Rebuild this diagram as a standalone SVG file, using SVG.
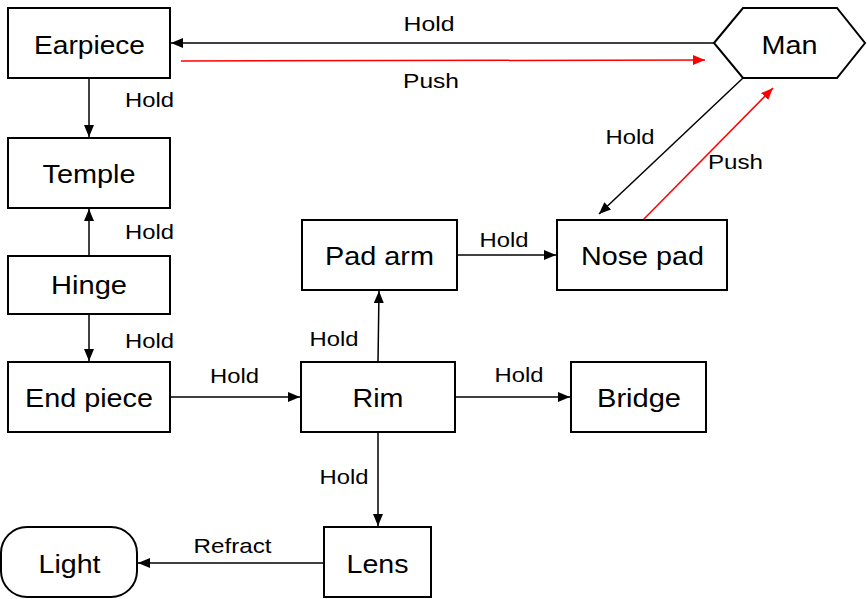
<svg xmlns="http://www.w3.org/2000/svg" width="867" height="599" viewBox="0 0 867 599">
<style>
.n{fill:#fff;stroke:#000;stroke-width:2}
.t{font-family:"Liberation Sans",Arial,sans-serif;font-size:25px;fill:#000;text-anchor:middle}
.l{font-family:"Liberation Sans",Arial,sans-serif;font-size:21px;fill:#000;text-anchor:middle}
.c{fill:none;stroke:#000;stroke-width:1.5}
.r{fill:none;stroke:#f00;stroke-width:1.5}
</style>
<defs>
<marker id="ab" viewBox="0 0 12 10" markerWidth="12" markerHeight="10" refX="12" refY="5" orient="auto" markerUnits="userSpaceOnUse"><path d="M0,0 L12,5 L0,10 z" fill="#000"/></marker>
<marker id="ar" viewBox="0 0 12 10" markerWidth="12" markerHeight="10" refX="12" refY="5" orient="auto" markerUnits="userSpaceOnUse"><path d="M0,0 L12,5 L0,10 z" fill="#f00"/></marker>
</defs>
<rect width="867" height="599" fill="#fff"/>
<g id="connectors">
<line class="c" x1="714" y1="43" x2="171" y2="43" marker-end="url(#ab)"/>
<line class="r" x1="181" y1="61" x2="705" y2="60" marker-end="url(#ar)"/>
<line class="c" x1="89" y1="78" x2="89" y2="137" marker-end="url(#ab)"/>
<line class="c" x1="89" y1="256" x2="89" y2="209" marker-end="url(#ab)"/>
<line class="c" x1="89" y1="314" x2="89" y2="361" marker-end="url(#ab)"/>
<line class="c" x1="170" y1="397" x2="300" y2="397" marker-end="url(#ab)"/>
<line class="c" x1="378" y1="362" x2="379" y2="291" marker-end="url(#ab)"/>
<line class="c" x1="457" y1="255" x2="556" y2="255" marker-end="url(#ab)"/>
<line class="c" x1="455" y1="397" x2="570" y2="397" marker-end="url(#ab)"/>
<line class="c" x1="378" y1="432" x2="378" y2="526" marker-end="url(#ab)"/>
<line class="c" x1="324" y1="563" x2="138" y2="563" marker-end="url(#ab)"/>
<line class="c" x1="743" y1="78" x2="599" y2="214" marker-end="url(#ab)"/>
<line class="r" x1="643" y1="220" x2="773" y2="88" marker-end="url(#ar)"/>
<text class="l" x="429" y="31" textLength="51" lengthAdjust="spacingAndGlyphs">Hold</text>
<text class="l" x="431" y="88" textLength="56" lengthAdjust="spacingAndGlyphs">Push</text>
<text class="l" x="149.5" y="106.5" textLength="49" lengthAdjust="spacingAndGlyphs">Hold</text>
<text class="l" x="149.5" y="238.5" textLength="49" lengthAdjust="spacingAndGlyphs">Hold</text>
<text class="l" x="149.5" y="347.5" textLength="49" lengthAdjust="spacingAndGlyphs">Hold</text>
<text class="l" x="234.5" y="382.5" textLength="49" lengthAdjust="spacingAndGlyphs">Hold</text>
<text class="l" x="334" y="345.5" textLength="49" lengthAdjust="spacingAndGlyphs">Hold</text>
<text class="l" x="504" y="246.5" textLength="49" lengthAdjust="spacingAndGlyphs">Hold</text>
<text class="l" x="519" y="381.5" textLength="49" lengthAdjust="spacingAndGlyphs">Hold</text>
<text class="l" x="344" y="484" textLength="49" lengthAdjust="spacingAndGlyphs">Hold</text>
<text class="l" x="232.5" y="552.5" textLength="78" lengthAdjust="spacingAndGlyphs">Refract</text>
<text class="l" x="630" y="143.5" textLength="49" lengthAdjust="spacingAndGlyphs">Hold</text>
<text class="l" x="735.5" y="168.5" textLength="55" lengthAdjust="spacingAndGlyphs">Push</text>
</g>
<g id="earpiece"><rect class="n" x="8" y="8" width="162" height="70"/><text class="t" x="89.5" y="54" textLength="111" lengthAdjust="spacingAndGlyphs">Earpiece</text></g>
<g id="temple"><rect class="n" x="8" y="138" width="162" height="70"/><text class="t" x="89" y="183" textLength="93" lengthAdjust="spacingAndGlyphs">Temple</text></g>
<g id="hinge"><rect class="n" x="8" y="256" width="162" height="58"/><text class="t" x="89" y="294" textLength="76" lengthAdjust="spacingAndGlyphs">Hinge</text></g>
<g id="endpiece"><rect class="n" x="8" y="362" width="162" height="70"/><text class="t" x="89" y="407" textLength="128" lengthAdjust="spacingAndGlyphs">End piece</text></g>
<g id="rim"><rect class="n" x="301" y="362" width="154" height="70"/><text class="t" x="378" y="407" textLength="51" lengthAdjust="spacingAndGlyphs">Rim</text></g>
<g id="padarm"><rect class="n" x="302" y="220" width="155" height="70"/><text class="t" x="379.5" y="264.5" textLength="109" lengthAdjust="spacingAndGlyphs">Pad arm</text></g>
<g id="nosepad"><rect class="n" x="557" y="220" width="170" height="70"/><text class="t" x="642.5" y="265" textLength="123" lengthAdjust="spacingAndGlyphs">Nose pad</text></g>
<g id="bridge"><rect class="n" x="571" y="362" width="135" height="70"/><text class="t" x="639" y="407" textLength="84" lengthAdjust="spacingAndGlyphs">Bridge</text></g>
<g id="lens"><rect class="n" x="324" y="527" width="107" height="70"/><text class="t" x="377.5" y="572.5" textLength="62" lengthAdjust="spacingAndGlyphs">Lens</text></g>
<g id="light"><rect class="n" x="1" y="527" width="136" height="70" rx="26" ry="26"/><text class="t" x="69.5" y="572.5" textLength="62" lengthAdjust="spacingAndGlyphs">Light</text></g>
<g id="man"><polygon class="n" points="714,43 743,8 837,8 865,43 837,78 743,78"/><text class="t" x="789.5" y="53.5" textLength="56" lengthAdjust="spacingAndGlyphs">Man</text></g>
</svg>
